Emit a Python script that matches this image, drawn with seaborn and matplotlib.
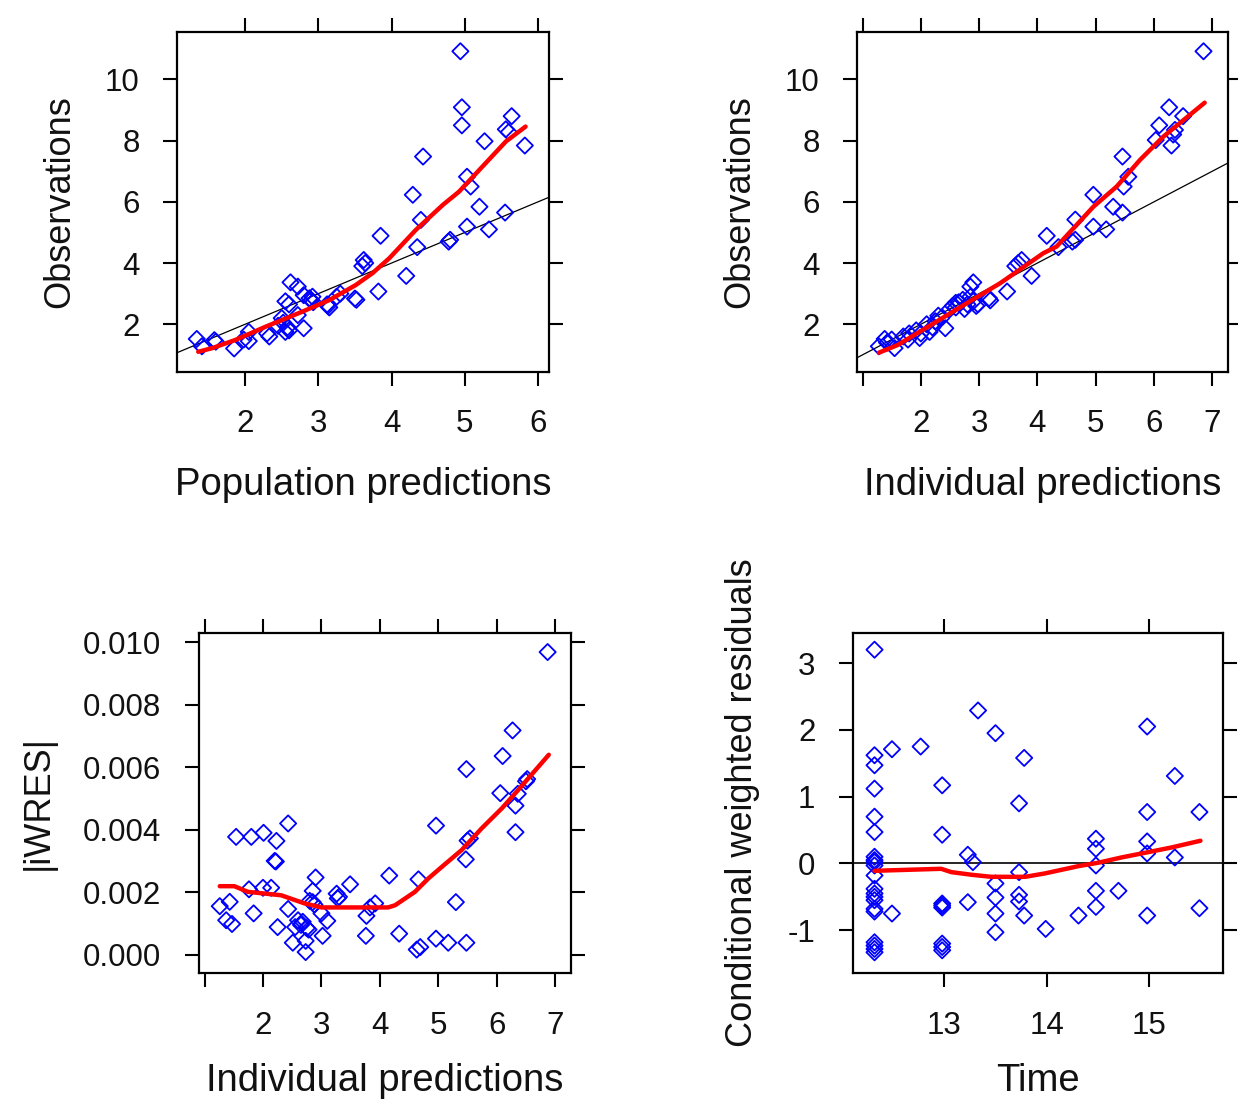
import numpy as np
import pandas as pd
import matplotlib
matplotlib.use('Agg')
import matplotlib.pyplot as plt
from matplotlib.ticker import FixedLocator, FixedFormatter
import seaborn as sns

# ---------------- Panel 1: Observations vs Population predictions ----------------
pred = [4.94, 4.96, 4.96, 5.64, 5.56, 5.60, 5.82, 5.27, 4.43, 5.03, 5.08, 4.29, 5.20, 5.55,
        4.40, 5.03, 5.33, 3.85, 4.78, 4.80, 4.35, 3.62, 3.64, 3.60, 4.20, 3.82,
        2.62, 2.72, 2.80, 2.88, 2.90, 2.93, 3.13, 3.15, 3.12, 3.50, 3.52, 3.30, 3.25, 2.55,
        2.60, 2.50, 2.52, 2.58, 2.60, 2.45, 2.55, 2.33, 2.80, 2.72, 2.05, 2.05, 1.98, 1.85,
        1.60, 1.58, 1.34, 1.41, 2.30, 2.92]
dv_pred = [10.92, 9.09, 8.50, 8.80, 8.37, 8.28, 7.84, 7.98, 7.48, 6.82, 6.50, 6.23, 5.84, 5.65,
           5.41, 5.19, 5.10, 4.89, 4.70, 4.76, 4.52, 4.10, 4.00, 3.90, 3.58, 3.07,
           3.37, 3.23, 2.95, 2.85, 2.78, 2.72, 2.60, 2.55, 2.65, 2.84, 2.80, 3.00, 2.90, 2.75,
           2.65, 2.20, 2.05, 1.90, 1.80, 1.95, 1.75, 1.60, 1.87, 2.30, 1.75, 1.45, 1.50, 1.21,
           1.43, 1.48, 1.52, 1.28, 1.70, 2.90]
smooth1_x = [1.36, 1.55, 1.87, 2.28, 2.78, 3.15, 3.51, 3.74, 3.97, 4.33, 4.70, 4.92, 5.24, 5.56, 5.83]
smooth1_y = [1.10, 1.22, 1.49, 1.92, 2.41, 2.79, 3.28, 3.67, 4.16, 5.08, 5.90, 6.33, 7.15, 7.97, 8.46]

# ---------------- Panel 2: Observations vs Individual predictions ----------------
ipred = [6.85, 6.26, 6.50, 6.09, 6.36, 6.33, 6.03, 6.30, 5.46, 5.56, 5.48, 4.96, 5.30, 5.46,
         4.65, 4.96, 5.18, 4.16, 4.60, 4.65, 4.36, 3.73, 3.67, 3.62, 3.90, 3.48, 2.90, 2.85,
         3.17, 3.19, 2.85, 2.90, 2.80, 2.72, 2.65, 2.55, 2.60, 2.95, 2.98, 2.75, 2.42, 2.30,
         2.25, 2.20, 2.15, 2.00, 1.98, 1.78, 1.80, 1.55, 1.38, 1.42, 1.28, 2.35, 2.50, 1.92,
         1.70, 1.50, 2.10, 2.60]
dv_ipred = [10.92, 9.09, 8.80, 8.50, 8.35, 8.20, 8.02, 7.84, 7.48, 6.82, 6.50, 6.23, 5.84, 5.65,
            5.42, 5.19, 5.10, 4.89, 4.70, 4.76, 4.52, 4.10, 4.00, 3.90, 3.58, 3.07, 3.37, 3.23,
            2.85, 2.78, 2.90, 2.75, 2.65, 2.80, 2.72, 2.60, 2.55, 2.60, 2.65, 2.50, 1.87, 2.28,
            2.10, 1.90, 1.75, 1.70, 1.55, 1.50, 1.70, 1.22, 1.52, 1.40, 1.28, 2.20, 2.50, 1.80,
            1.60, 1.50, 2.00, 2.70]
smooth2_x = [1.28, 1.60, 2.22, 2.79, 3.36, 4.10, 4.33, 4.96, 5.36, 5.76, 6.16, 6.87]
smooth2_y = [1.07, 1.32, 2.03, 2.69, 3.34, 4.32, 4.54, 5.84, 6.50, 7.37, 8.13, 9.24]

# ---------------- Panel 3: |iWRES| vs Individual predictions ----------------
ipred3 = [6.87, 6.27, 6.10, 5.48, 6.52, 6.50, 6.06, 6.36, 6.32, 6.32, 4.96, 5.54, 5.50, 5.47,
          4.66, 4.16, 5.30, 3.49, 3.92, 3.83, 3.77, 3.76, 4.33, 4.96, 5.17, 5.48, 4.63, 4.69,
          2.90, 2.85, 3.26, 3.30, 3.28, 2.80, 2.85, 2.88, 3.00, 3.10, 3.02, 2.43, 2.60, 2.65,
          2.68, 2.55, 2.75, 2.78, 2.73, 2.73, 2.51, 2.25, 1.84, 1.76, 2.00, 2.14, 2.43, 2.23,
          2.20, 2.22, 2.01, 1.80, 1.54, 1.43, 1.26, 1.37, 1.47]
iwres_abs = [9.69, 7.18, 6.36, 5.94, 5.62, 5.55, 5.17, 5.15, 4.77, 3.92, 4.13, 3.72, 3.65, 3.05,
             2.41, 2.53, 1.68, 2.25, 1.64, 1.51, 1.24, 0.60, 0.67, 0.51, 0.38, 0.38, 0.16, 0.24,
             2.47, 2.04, 1.95, 1.85, 1.80, 1.72, 1.68, 1.60, 1.32, 1.08, 0.60, 1.46, 1.10, 0.95,
             1.05, 0.88, 0.85, 0.80, 0.44, 0.08, 0.38, 0.88, 1.32, 2.09, 2.14, 2.14, 4.20, 3.64,
             3.00, 2.98, 3.90, 3.77, 3.77, 1.69, 1.55, 1.10, 0.98]
iwres_abs = [v / 1000 for v in iwres_abs]
smooth3_x = [1.26, 1.51, 1.74, 2.31, 2.71, 3.00, 4.14, 4.26, 4.60, 4.83, 5.06, 5.40, 5.74, 6.09, 6.37, 6.89]
smooth3_y = [2.19, 2.19, 2.01, 1.90, 1.64, 1.51, 1.51, 1.58, 2.01, 2.44, 2.81, 3.35, 4.04, 4.69, 5.28, 6.40]
smooth3_y = [v / 1000 for v in smooth3_y]

# ---------------- Panel 4: CWRES vs Time ----------------
time = ([12.32] * 21 + [12.49] * 2 + [12.77] + [12.98] * 8 + [13.23] * 2 + [13.28] + [13.33]
        + [13.50] * 5 + [13.73] * 4 + [13.78] * 2 + [13.99] + [14.31] + [14.48] * 5 + [14.70]
        + [14.98] * 5 + [15.25] * 2 + [15.49] * 2)
cwres = [3.20, 1.62, 1.47, 1.12, 0.70, 0.47, 0.10, 0.05, 0.02, -0.03, -0.18, -0.38, -0.45,
         -0.50, -0.55, -0.68, -0.72, -1.18, -1.23, -1.28, -1.33,
         1.71, -0.75,
         1.75,
         1.17, 0.43, -0.60, -0.63, -0.66, -1.20, -1.25, -1.30,
         0.13, -0.58,
         0.02,
         2.29,
         1.95, -0.30, -0.51, -0.75, -1.03,
         0.90, -0.13, -0.47, -0.57,
         1.58, -0.78,
         -0.98,
         -0.78,
         0.37, 0.22, -0.03, -0.41, -0.65,
         -0.41,
         2.05, 0.77, 0.33, 0.15, -0.78,
         1.31, 0.09,
         0.77, -0.67]
smooth4_x = [12.32, 12.97, 13.07, 13.27, 13.46, 13.79, 13.98, 14.31, 14.50, 14.73, 14.96, 15.22, 15.50]
smooth4_y = [-0.11, -0.08, -0.13, -0.17, -0.20, -0.20, -0.15, -0.04, 0.01, 0.09, 0.16, 0.24, 0.34]

# ---------------- tick definitions ----------------
p1_xticks = [2, 3, 4, 5, 6]
p1_xlabels = ['2', '3', '4', '5', '6']
obs_yticks = [2, 4, 6, 8, 10]
obs_ylabels = ['2', '4', '6', '8', '10']
ip_xticks = [1, 2, 3, 4, 5, 6, 7]
ip_xlabels = ['', '2', '3', '4', '5', '6', '7']
iw_yticks = [0.000, 0.002, 0.004, 0.006, 0.008, 0.010]
iw_ylabels = ['0.000', '0.002', '0.004', '0.006', '0.008', '0.010']
t_xticks = [13, 14, 15]
t_xlabels = ['13', '14', '15']
cw_yticks = [-1, 0, 1, 2, 3]
cw_ylabels = ['-1', '0', '1', '2', '3']

sns.set_theme(style='white')
plt.rcParams['font.family'] = ['Liberation Sans', 'DejaVu Sans']

W, H = 1238, 1101
fig = plt.figure(figsize=(W / 100, H / 100), dpi=100)


def box(l, t, r, b):
    return [l / W, 1 - b / H, (r - l) / W, (b - t) / H]


ax1 = fig.add_axes(box(177, 32, 549, 372))
ax2 = fig.add_axes(box(857, 32, 1228, 372))
ax3 = fig.add_axes(box(199, 633, 571, 973))
ax4 = fig.add_axes(box(853, 633, 1223, 973))

TICK_FS = 22.5
LAB_FS = 27.5
TXT = '#111111'


def scatter(ax, x, y):
    sns.scatterplot(x=x, y=y, ax=ax, marker='D', s=68, facecolor='none',
                    edgecolor='#0000ff', linewidth=1.3, zorder=3, legend=False)


def smooth(ax, x, y):
    sns.lineplot(x=x, y=y, ax=ax, color='#ff0000', lw=3.2, sort=False,
                 estimator=None, zorder=4, legend=False)


def style(ax, xlim, ylim, xt, xl, yt, yl, xlabel, ylabel, xpad=20, ypad=20, yfs=LAB_FS):
    ax.set_xlim(*xlim)
    ax.set_ylim(*ylim)
    ax.xaxis.set_major_locator(FixedLocator(xt))
    ax.xaxis.set_major_formatter(FixedFormatter(xl))
    ax.yaxis.set_major_locator(FixedLocator(yt))
    ax.yaxis.set_major_formatter(FixedFormatter(yl))
    ax.tick_params(direction='out', length=10, width=1.5, color='black',
                   top=True, right=True, bottom=True, left=True,
                   labeltop=False, labelright=False, labelsize=TICK_FS,
                   labelcolor=TXT, pad=17)
    for s in ax.spines.values():
        s.set_linewidth(1.6)
        s.set_color('black')
    ax.set_xlabel(xlabel, fontsize=LAB_FS, labelpad=xpad, color=TXT)
    ax.set_ylabel(ylabel, fontsize=yfs, labelpad=ypad, color=TXT)
    ax.grid(False)


# Panel 1
scatter(ax1, pred, dv_pred)
ax1.axline((0, 0), slope=1, color='black', lw=0.9, zorder=2)
smooth(ax1, smooth1_x, smooth1_y)
style(ax1, (1.07, 6.15), (0.44, 11.55), p1_xticks, p1_xlabels, obs_yticks, obs_ylabels,
      'Population predictions', 'Observations', yfs=26)

# Panel 2
scatter(ax2, ipred, dv_ipred)
ax2.axline((0, 0), slope=1, color='black', lw=0.9, zorder=2)
smooth(ax2, smooth2_x, smooth2_y)
style(ax2, (0.905, 7.27), (0.44, 11.55), ip_xticks, ip_xlabels, obs_yticks, obs_ylabels,
      'Individual predictions', 'Observations', yfs=26)

# Panel 3
scatter(ax3, ipred3, iwres_abs)
smooth(ax3, smooth3_x, smooth3_y)
style(ax3, (0.905, 7.27), (-0.00059, 0.0103), ip_xticks, ip_xlabels, iw_yticks, iw_ylabels,
      'Individual predictions', '|iWRES|', xpad=16, yfs=26)

# Panel 4
scatter(ax4, time, cwres)
ax4.axhline(0, color='black', lw=1.2, zorder=2)
smooth(ax4, smooth4_x, smooth4_y)
style(ax4, (12.11, 15.72), (-1.64, 3.45), t_xticks, t_xlabels, cw_yticks, cw_ylabels,
      'Time', 'Conditional weighted residuals', xpad=16, yfs=26)

fig.savefig('out.png', dpi=100)
